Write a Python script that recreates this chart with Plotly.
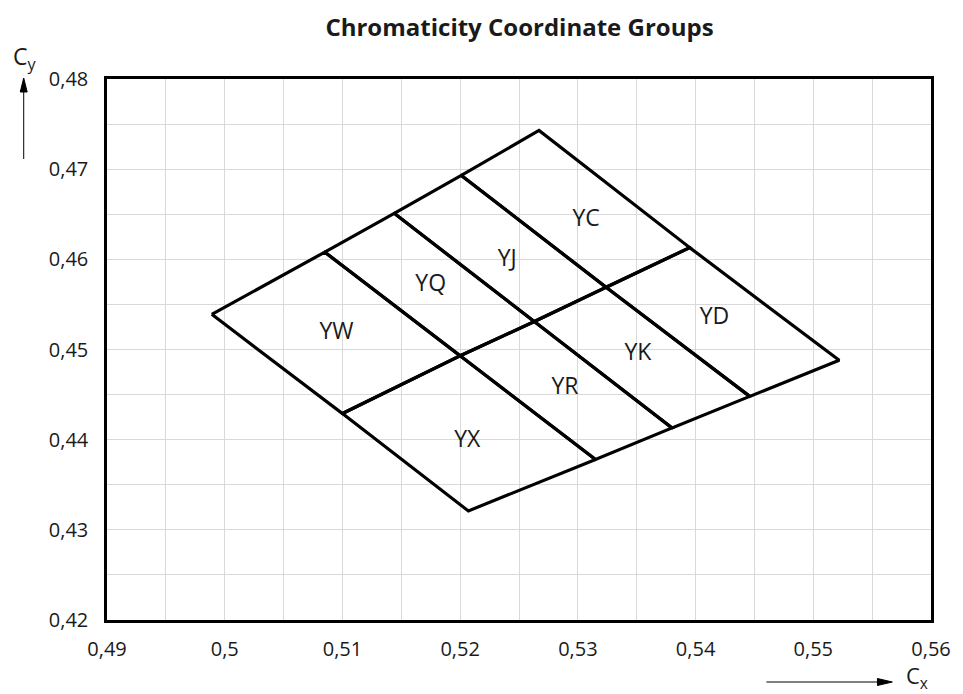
import plotly.graph_objects as go

# ---- data ----
bin_names = ["YW", "YQ", "YJ", "YC", "YX", "YR", "YK", "YD"]

# grid lines of the binning quadrilateral (upper-left edge, middle line, lower-right edge)
upper_x = [0.4989, 0.5085, 0.5144, 0.5201, 0.5267]
upper_y = [0.4539, 0.4608, 0.4651, 0.4693, 0.4743]
mid_x = [0.5100, 0.5200, 0.5263, 0.5324, 0.5395]
mid_y = [0.4429, 0.4493, 0.4531, 0.4569, 0.4613]
lower_x = [0.5207, 0.5315, 0.5380, 0.5446, 0.5522]
lower_y = [0.4321, 0.4378, 0.4413, 0.4448, 0.4488]

label_x = [0.5095, 0.5175, 0.5240, 0.5307, 0.5206, 0.5289, 0.5351, 0.5416]
label_y = [0.4518, 0.4571, 0.4599, 0.4643, 0.4398, 0.4457, 0.4495, 0.4535]

x_tick_vals = [0.49, 0.50, 0.51, 0.52, 0.53, 0.54, 0.55, 0.56]
x_tick_text = ["0,49", "0,5", "0,51", "0,52", "0,53", "0,54", "0,55", "0,56"]
y_tick_vals = [0.42, 0.43, 0.44, 0.45, 0.46, 0.47, 0.48]
y_tick_text = ["0,42", "0,43", "0,44", "0,45", "0,46", "0,47", "0,48"]

FONT = "Open Sans"
TXT = "#1a1a1a"

fig = go.Figure()

# build polygons for each bin
polys = []
for i in range(4):  # upper row
    xs = [upper_x[i], upper_x[i + 1], mid_x[i + 1], mid_x[i], upper_x[i]]
    ys = [upper_y[i], upper_y[i + 1], mid_y[i + 1], mid_y[i], upper_y[i]]
    polys.append((xs, ys))
for i in range(4):  # lower row
    xs = [mid_x[i], mid_x[i + 1], lower_x[i + 1], lower_x[i], mid_x[i]]
    ys = [mid_y[i], mid_y[i + 1], lower_y[i + 1], lower_y[i], mid_y[i]]
    polys.append((xs, ys))

for name, (xs, ys) in zip(bin_names, polys):
    fig.add_trace(go.Scatter(
        x=xs, y=ys, mode="lines", name=name,
        line=dict(color="black", width=3.2),
        showlegend=False, hoverinfo="skip",
    ))

fig.add_trace(go.Scatter(
    x=label_x, y=label_y, mode="text", text=bin_names,
    textfont=dict(family=FONT, size=23, color=TXT),
    showlegend=False, hoverinfo="skip",
))

L, R, T, B = 107, 25, 79, 74
W, H = 963, 694
pw, ph = W - L - R, H - T - B

def px(xp):
    return (xp - L) / pw

def py(yp):
    return (H - B - yp) / ph

axis_common = dict(
    showline=True, mirror=True, linecolor="black", linewidth=2.5,
    showgrid=True, gridcolor="#d9d9d9", gridwidth=1,
    zeroline=False, ticks="",
    tickfont=dict(family=FONT, size=20, color=TXT),
)

fig.update_layout(
    width=W, height=H,
    margin=dict(l=L, r=R, t=T, b=B),
    paper_bgcolor="white", plot_bgcolor="white",
    title=dict(
        text="<b>Chromaticity Coordinate Groups</b>",
        font=dict(family=FONT, size=24, color=TXT),
        x=px(523), xanchor="center", xref="paper",
        y=1 - 28 / H, yanchor="middle", yref="container",
    ),
    xaxis=dict(range=[0.49, 0.56], tickvals=x_tick_vals, ticktext=x_tick_text,
               ticklabelstandoff=9,
               minor=dict(dtick=0.005, showgrid=True, gridcolor="#d9d9d9", gridwidth=1),
               **axis_common),
    yaxis=dict(range=[0.42, 0.48], tickvals=y_tick_vals, ticktext=y_tick_text,
               ticklabelstandoff=12,
               minor=dict(dtick=0.005, showgrid=True, gridcolor="#d9d9d9", gridwidth=1),
               **axis_common),
)

# axis direction arrows as shapes (paper coordinates)
line_style = dict(color="black", width=1)
# vertical arrow for Cy
fig.add_shape(type="line", xref="paper", yref="paper",
              x0=px(23), y0=py(159), x1=px(23), y1=py(90), line=line_style)
fig.add_shape(type="path", xref="paper", yref="paper",
              path=f"M {px(23)} {py(78)} L {px(19.5)} {py(92)} L {px(26.5)} {py(92)} Z",
              fillcolor="black", line=dict(color="black", width=1))
# horizontal arrow for Cx
fig.add_shape(type="line", xref="paper", yref="paper",
              x0=px(772), y0=py(682), x1=px(888), y1=py(682), line=line_style)
fig.add_shape(type="path", xref="paper", yref="paper",
              path=f"M {px(899)} {py(682)} L {px(884)} {py(678.5)} L {px(884)} {py(685.5)} Z",
              fillcolor="black", line=dict(color="black", width=1))

fig.add_annotation(x=px(24), y=py(58), xref="paper", yref="paper",
                   xanchor="center", yanchor="middle",
                   text="C<sub>y</sub>", showarrow=False,
                   font=dict(family=FONT, size=23, color=TXT))
fig.add_annotation(x=px(924), y=py(677), xref="paper", yref="paper",
                   xanchor="center", yanchor="middle",
                   text="C<sub>x</sub>", showarrow=False,
                   font=dict(family=FONT, size=22, color=TXT))

fig.write_html("out.html", post_script="document.body.style.margin='0';",
               config={"displayModeBar": False})
